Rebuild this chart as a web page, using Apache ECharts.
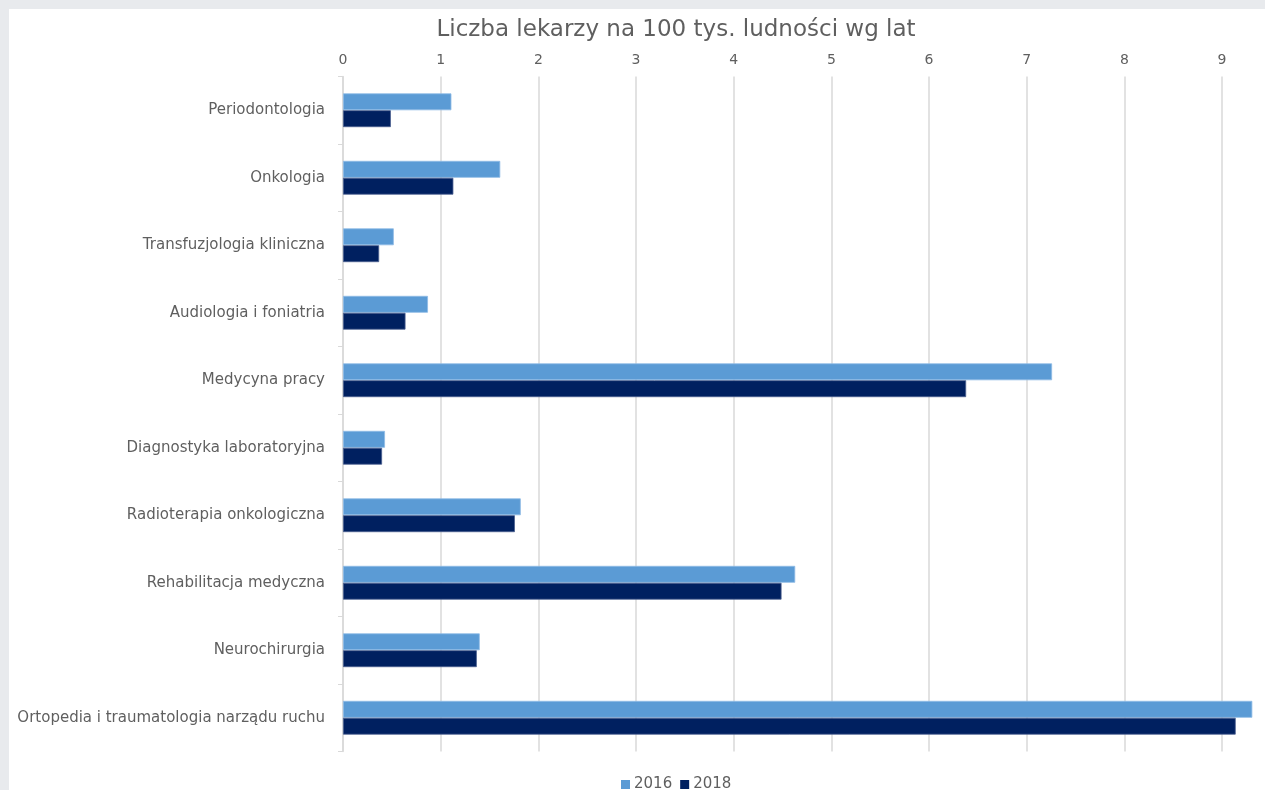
<!DOCTYPE html>
<html>
<head>
<meta charset="utf-8">
<script src="https://cdn.jsdelivr.net/npm/echarts@6/dist/echarts.min.js"></script>
<style>
  html, body { margin: 0; padding: 0; background: #e8eaed; width: 1265px; height: 790px; overflow: hidden; }
  #chart { position: absolute; left: 9px; top: 9px; width: 1256px; height: 781px; background: #ffffff; }
</style>
</head>
<body>
<div id="chart"></div>
<script>
// Specjalizacje (od góry wykresu)
const categories = [
  'Periodontologia',
  'Onkologia',
  'Transfuzjologia kliniczna',
  'Audiologia i foniatria',
  'Medycyna pracy',
  'Diagnostyka laboratoryjna',
  'Radioterapia onkologiczna',
  'Rehabilitacja medyczna',
  'Neurochirurgia',
  'Ortopedia i traumatologia narządu ruchu'
];

// Liczba lekarzy na 100 tys. ludności
const values2016 = [1.11, 1.61, 0.52, 0.87, 7.26, 0.43, 1.82, 4.63, 1.40, 9.31];
const values2018 = [0.49, 1.13, 0.37, 0.64, 6.38, 0.40, 1.76, 4.49, 1.37, 9.14];

const seriesNames = ['2016', '2018'];
const titleText = 'Liczba lekarzy na 100 tys. ludności wg lat';

const FONT = '"DejaVu Sans", "Open Sans", sans-serif';
const TEXT = '#5f5f5f';
const GRID = '#d9d9d9';

const chart = echarts.init(document.getElementById('chart'), null, { renderer: 'canvas' });

chart.setOption({
  animation: false,
  textStyle: { fontFamily: FONT },
  title: {
    text: titleText,
    left: 662,
    top: 5,
    textAlign: 'center',
    textStyle: { fontFamily: FONT, fontSize: 23, fontWeight: 'normal', color: TEXT }
  },
  legend: {
    data: seriesNames,
    left: 607,
    top: 763,
    icon: 'rect',
    itemWidth: 9,
    itemHeight: 9,
    itemGap: 8,
    itemStyle: { borderWidth: 0 },
    textStyle: { fontFamily: FONT, fontSize: 15, color: TEXT, padding: [0, 0, 0, -1] }
  },
  grid: {
    left: 334,
    top: 67.5,
    width: 976.7,
    height: 675,
    containLabel: false,
    outerBoundsMode: 'none'
  },
  xAxis: {
    type: 'value',
    position: 'top',
    min: 0,
    max: 10,
    interval: 1,
    axisLine: { show: false },
    axisTick: { show: false },
    axisLabel: { fontFamily: FONT, fontSize: 14, color: TEXT, margin: 9 },
    splitLine: { show: true, lineStyle: { color: GRID, width: 1.5 } }
  },
  yAxis: {
    type: 'category',
    data: categories,
    inverse: true,
    axisLine: { show: true, lineStyle: { color: GRID, width: 1.5 } },
    axisTick: { show: true, length: 5, lineStyle: { color: GRID } },
    axisLabel: { fontFamily: FONT, fontSize: 15, color: TEXT, margin: 18 }
  },
  series: [
    {
      name: seriesNames[0],
      type: 'bar',
      data: values2016,
      barCategoryGap: '50%',
      barGap: '0%',
      itemStyle: { color: '#5b9bd5', borderColor: '#8fbbe6', borderWidth: 0.8 }
    },
    {
      name: seriesNames[1],
      type: 'bar',
      data: values2018,
      barCategoryGap: '50%',
      barGap: '0%',
      itemStyle: { color: '#002060', borderColor: '#4a5f8f', borderWidth: 0.8 }
    }
  ]
});
</script>
</body>
</html>
